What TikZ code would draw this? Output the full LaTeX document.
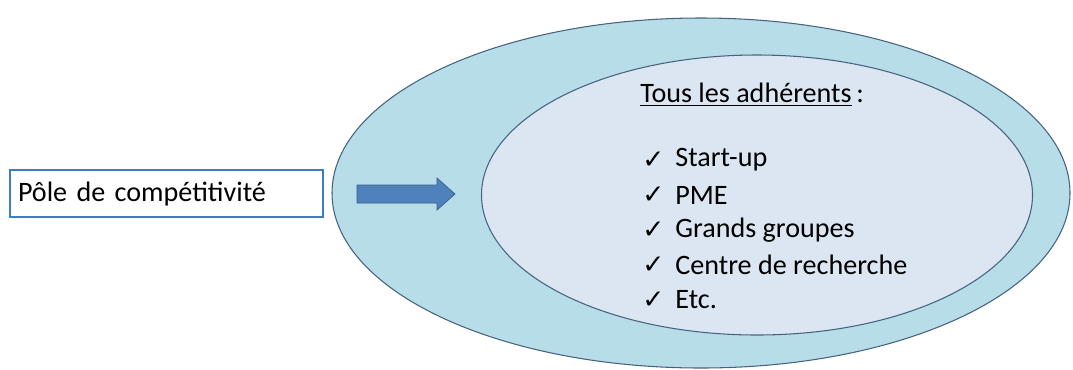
\documentclass[tikz,border=0pt]{standalone}
\usepackage{fontspec}
\setmainfont{Carlito}
\newfontfamily\checkfont{DejaVu Sans}
\usetikzlibrary{shapes.geometric,positioning}
\definecolor{outerblue}{RGB}{183,221,232}
\definecolor{innerblue}{RGB}{220,230,242}
\definecolor{rimgray}{RGB}{70,98,128}
\definecolor{arrowblue}{RGB}{79,129,189}
\definecolor{arrowedge}{RGB}{56,93,138}
\definecolor{boxblue}{RGB}{60,125,196}
\tikzset{
  outerzone/.style={ellipse, draw=rimgray, fill=outerblue, semithick, inner sep=0pt, minimum width=14.76cm, minimum height=7cm},
  innerzone/.style={ellipse, draw=rimgray, fill=innerblue, semithick, inner sep=0pt, minimum width=11.02cm, minimum height=5.6cm},
  polebox/.style={draw=boxblue, fill=white, semithick, minimum height=0.94cm, text width=5.94cm, inner sep=0.16cm, align=left, font=\fontsize{16}{19}\selectfont},
  blockarrow/.style={fill=arrowblue, draw=arrowedge, thin},
  listtext/.style={anchor=west, inner sep=0pt, font=\fontsize{16}{19}\selectfont},
  tick/.style={anchor=west, inner sep=0pt, font=\checkfont\fontsize{15}{17}\selectfont},
}
\begin{document}
\begin{tikzpicture}
\useasboundingbox (0,0) rectangle (21.46,-7.38);
\node[outerzone] (outer) at (14.02,-3.86) {};
\node[innerzone] (inner) at (15.14,-3.90) {};
\node[polebox] (pole) at (3.33,-3.87) {Pôle de compétitivité};
\draw[blockarrow] (7.14,-3.70) -- (8.74,-3.70) -- (8.74,-3.56) -- (9.10,-3.88) -- (8.74,-4.20) -- (8.74,-4.06) -- (7.14,-4.06) -- cycle;
\node[listtext] (title) at (12.80,-1.90) {\underline{Tous les adhérents}\,:};
\node[tick] (tick1) at (12.84,-3.20) {✓};
\node[listtext] (item1) at (13.50,-3.20) {Start-up};
\node[tick] (tick2) at (12.84,-3.90) {✓};
\node[listtext] (item2) at (13.50,-3.90) {PME};
\node[tick] (tick3) at (12.84,-4.60) {✓};
\node[listtext] (item3) at (13.50,-4.60) {Grands groupes};
\node[tick] (tick4) at (12.84,-5.30) {✓};
\node[listtext] (item4) at (13.50,-5.30) {Centre de recherche};
\node[tick] (tick5) at (12.84,-6.00) {✓};
\node[listtext] (item5) at (13.50,-6.00) {Etc.};
\end{tikzpicture}
\end{document}
